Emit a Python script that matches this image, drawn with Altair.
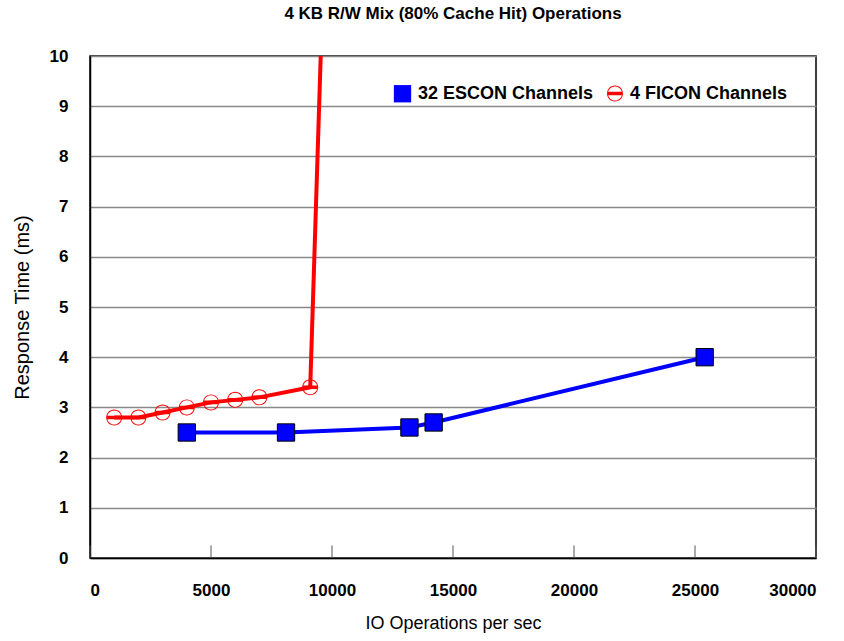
import altair as alt
import pandas as pd

escon_x = [4000, 8100, 13200, 14200, 25400]
escon_y = [2.5, 2.5, 2.6, 2.7, 4.0]
ficon_x = [1000, 2000, 3000, 4000, 5000, 6000, 7000, 9100, 9560]
ficon_y = [2.8, 2.8, 2.9, 3.0, 3.1, 3.15, 3.2, 3.4, 10.4]
series = ["32 ESCON Channels", "4 FICON Channels"]
x_ticks = [0, 5000, 10000, 15000, 20000, 25000, 30000]
y_ticks = [0, 1, 2, 3, 4, 5, 6, 7, 8, 9, 10]

df = pd.concat([
    pd.DataFrame({"x": escon_x, "y": escon_y, "s": series[0], "o": range(len(escon_x))}),
    pd.DataFrame({"x": ficon_x, "y": ficon_y, "s": series[1], "o": range(len(ficon_x))}),
])
ticks = pd.DataFrame({"x": x_ticks})

FONT = "Liberation Sans"
xs = alt.Scale(domain=[0, 30000], nice=False)
ys = alt.Scale(domain=[0, 10], nice=False)

RING_BAR = ("M-1,0A1,1 0 1,1 1,0A1,1 0 1,1 -1,0Z "
            "M-0.88,0A0.88,0.88 0 1,0 0.88,0A0.88,0.88 0 1,0 -0.88,0Z "
            "M-0.88,-0.22L0.88,-0.22L0.88,0.22L-0.88,0.22Z")

leg = alt.Legend(orient="top-right", offset=28, direction="horizontal", title=None,
                 labelFont=FONT, labelFontSize=18, labelFontWeight="bold", labelColor="#000000",
                 symbolSize=270, columnPadding=12, labelLimit=300, labelOffset=6)

base = alt.Chart(df)
lines = base.mark_line(strokeWidth=4, clip=True).encode(
    x=alt.X("x:Q", scale=xs, axis=alt.Axis(values=x_ticks, title="IO Operations per sec", grid=False, tickSize=0, labelPadding=24, titlePadding=16, format="d")),
    y=alt.Y("y:Q", scale=ys, axis=alt.Axis(values=y_ticks, title="Response Time (ms)", titleFontSize=20, grid=True, tickSize=0, labelPadding=22, titlePadding=17)),
    detail="s:N",
    stroke=alt.Stroke("s:N", scale=alt.Scale(domain=series, range=["#0000ff", "#ff0000"]), legend=None),
    order="o:Q",
)
pts = base.mark_point(clip=True, filled=True, opacity=1).encode(
    x=alt.X("x:Q", scale=xs),
    y=alt.Y("y:Q", scale=ys),
    shape=alt.Shape("s:N", scale=alt.Scale(domain=series, range=["square", RING_BAR]), legend=leg),
    color=alt.Color("s:N", scale=alt.Scale(domain=series, range=["#0000ff", "#ff0000"]), legend=leg),
    size=alt.Size("s:N", scale=alt.Scale(domain=series, range=[300, 256]), legend=None),
)
sq_outline = base.transform_filter(
    alt.datum.s == series[0]
).mark_point(clip=True, filled=False, shape="square", size=300, stroke="#000000", strokeWidth=1, opacity=1).encode(
    x=alt.X("x:Q", scale=xs),
    y=alt.Y("y:Q", scale=ys),
)

tickmarks = alt.Chart(ticks).mark_rule(color="#555555", strokeWidth=1).encode(
    x=alt.X("x:Q", scale=xs),
    y=alt.datum(0),
    y2=alt.datum(0.25),
)

chart = alt.layer(lines, pts, sq_outline, tickmarks).resolve_scale(
    stroke="independent"
).properties(
    width=726,
    height=502,
    title=alt.TitleParams("4 KB R/W Mix (80% Cache Hit) Operations", font=FONT, fontSize=17, fontWeight="bold", offset=24),
    autosize=alt.AutoSizeParams(type="none"),
    padding={"left": 90, "top": 56, "right": 28, "bottom": 83},
    background="white",
).configure_view(
    stroke="#000000", strokeWidth=1.5
).configure_axis(
    labelFont=FONT, labelFontSize=17, labelFontWeight="bold", labelColor="#000000",
    titleFont=FONT, titleFontSize=18, titleFontWeight="normal", titleColor="#000000",
    gridColor="#888888", gridWidth=1.5, domainColor="#000000", domainWidth=1.5,
)

chart.save("out.html", embed_options={"renderer": "svg", "actions": False})
